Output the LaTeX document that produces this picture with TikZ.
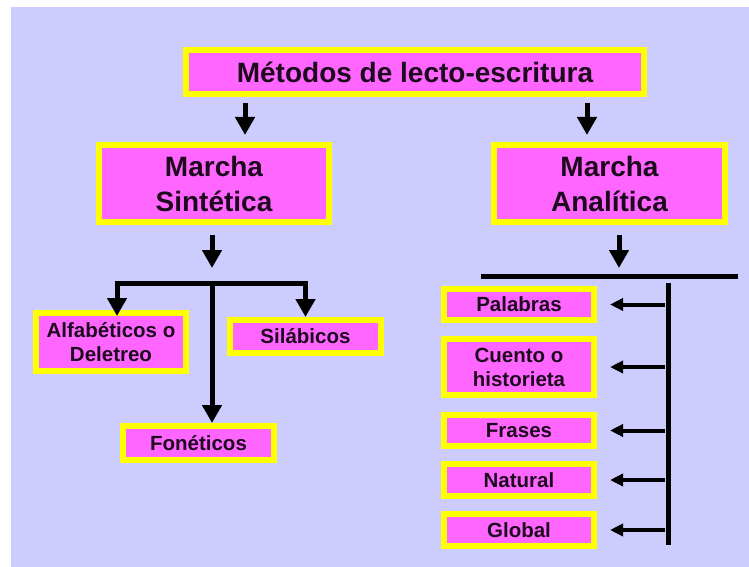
\documentclass[tikz,border=0pt]{standalone}
\usepackage{fontspec}
\setmainfont{Liberation Sans}
\usepackage{tikz}
\usetikzlibrary{arrows.meta,positioning,calc}
\definecolor{lavender}{HTML}{CCCCFF}
\definecolor{boxfill}{HTML}{FF66FF}
\definecolor{boxline}{HTML}{FFFF00}
\definecolor{ink}{HTML}{1E0A1E}
\tikzset{
  box/.style={draw=boxline,fill=boxfill,line width=6pt,inner sep=0pt,
    align=center,text=ink},
  big/.style={font=\fontsize{28}{35}\selectfont\bfseries},
  small/.style={font=\fontsize{20.5}{24}\selectfont\bfseries},
  bar/.style={line width=5pt,line join=miter},
  bigarrow/.style={bar,-{Triangle[length=18pt,width=19pt]}},
  smallarrow/.style={line width=4pt,-{Triangle[length=13pt,width=12pt]}}
}

\begin{document}
\begin{tikzpicture}[x=1pt,y=-1pt]
  \useasboundingbox (0,0) rectangle (749,567);
  \fill[lavender] (11,7) rectangle (749,567);

  % top
  \node[box,big,minimum width=458pt,minimum height=44pt] (title) at (415,72)
    {Métodos de lecto-escritura};
  \node[box,big,minimum width=230pt,minimum height=77pt] (sint) at (214,183.5)
    {Marcha\\Sintética};
  \node[box,big,minimum width=231pt,minimum height=77pt] (anal) at (609.5,183.5)
    {Marcha\\Analítica};

  % synthetic side
  \node[box,small,minimum width=150pt,minimum height=58pt] (alfa) at (111,342)
    {Alfabéticos o\\Deletreo};
  \node[box,small,minimum width=151pt,minimum height=33pt] (sil) at (305.5,336.5)
    {Silábicos};
  \node[box,small,minimum width=151pt,minimum height=34pt] (fon) at (198.5,443)
    {Fonéticos};

  % analytic side
  \node[box,small,minimum width=150pt,minimum height=31pt] (pal) at (519,304.5)
    {Palabras};
  \node[box,small,minimum width=150pt,minimum height=56pt] (cue) at (519,367)
    {Cuento o\\historieta};
  \node[box,small,minimum width=150pt,minimum height=31pt] (fra) at (519,430.5)
    {Frases};
  \node[box,small,minimum width=150pt,minimum height=32pt] (nat) at (519,480)
    {Natural};
  \node[box,small,minimum width=150pt,minimum height=32pt] (glo) at (519,530)
    {Global};

  \coordinate (c1) at (245,0);
  \coordinate (c2) at (587,0);
  \coordinate (fork) at (212,283);
  \coordinate (rfork) at (619,276);
  \coordinate (rl) at (481,276);
  \coordinate (rr) at (738,276);
  \coordinate (spine) at (668,283);
  \coordinate (spineend) at (668,545);

  \draw[bigarrow] ([yshift=-6pt]title.south -| c1) -- ([yshift=7pt]sint.north -| c1);
  \draw[bigarrow] ([yshift=-6pt]title.south -| c2) -- ([yshift=7pt]anal.north -| c2);

  % fork under Marcha Sintetica
  \draw[bigarrow] ([yshift=-10pt]sint.south -| fork) -- ([yshift=15pt]fork);
  \draw[bigarrow] (fork) -| ([xshift=6pt,yshift=-6pt]alfa.north);
  \draw[bigarrow] (fork) -| (sil.north);
  \draw[bigarrow] (fork) -- (fon.north -| fork);

  % bar and spine under Marcha Analitica
  \draw[bigarrow] ([yshift=-10pt]anal.south -| rfork) -- ([yshift=8pt]rfork);
  \draw[bar] (rl) -- (rr);
  \draw[bar] (spine) -- (spineend);
  \foreach \b in {pal,cue,fra,nat,glo}
    \draw[smallarrow] ([xshift=-3pt]spine |- \b.east) -- ([xshift=13pt]\b.east);
\end{tikzpicture}
\end{document}
